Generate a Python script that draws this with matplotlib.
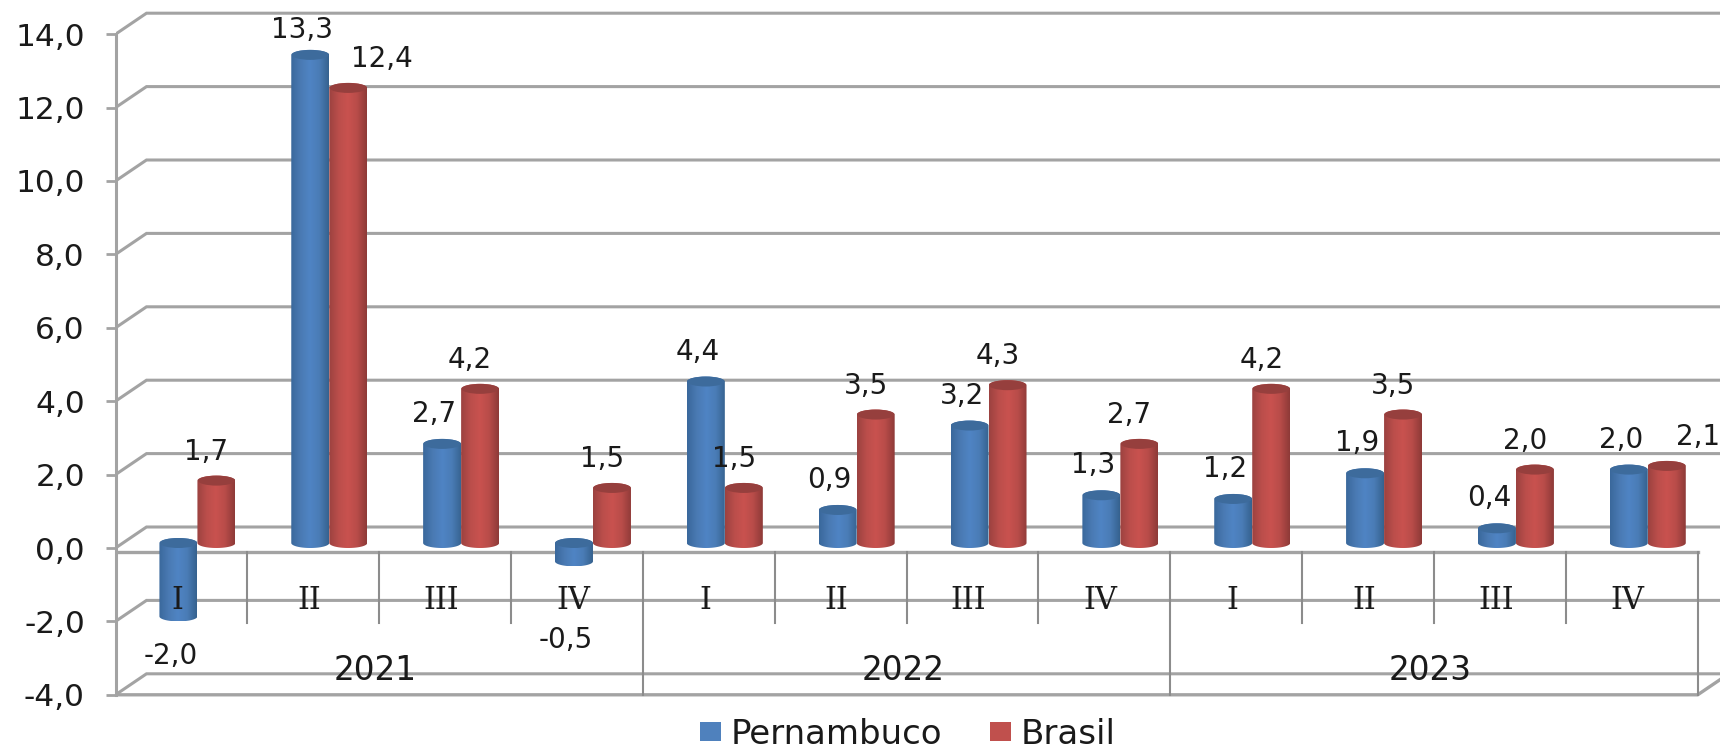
import numpy as np
import matplotlib
matplotlib.use('Agg')
import matplotlib.pyplot as plt
from matplotlib.colors import LinearSegmentedColormap
from matplotlib.patches import Ellipse, PathPatch
from matplotlib.path import Path

quarters = ['I', 'II', 'III', 'IV'] * 3
years = ['2021', '2022', '2023']
pernambuco = [-2.0, 13.3, 2.7, -0.5, 4.4, 0.9, 3.2, 1.3, 1.2, 1.9, 0.4, 2.0]
brasil = [1.7, 12.4, 4.2, 1.5, 1.5, 3.5, 4.3, 2.7, 4.2, 3.5, 2.0, 2.1]
yticks = [-4, -2, 0, 2, 4, 6, 8, 10, 12, 14]

W, H = 1720, 751
X0, XSTEP = 115.5, 131.85   # pixels
Y0, YSTEP = 548., 36.7
DX, DY = 31./XSTEP, 21./YSTEP   # depth of the 3d box
BARX, BARY = 16./XSTEP, 5./YSTEP   # bars stand half way in
BARW = 38./XSTEP
CAPH = 5./YSTEP
GRID = '#a3a3a3'
FONT = 'DejaVu Sans'
TXT = '#1a1a1a'

fig = plt.figure(figsize=(W/100., H/100.), dpi=100)
ax = fig.add_axes([X0/W, 0, 1-X0/W, 1])
ax.patch.set_visible(False)


def fmt(val):
    return '{0:.1f}'.format(val).replace('.', ',')


def cylinder(xc, val, cols, capcol, zord):
    """ a shaded cylinder from the floor level to `val` """
    cmap = LinearSegmentedColormap.from_list('cyl', cols)
    base = BARY
    low, upp = min(base, base+val), max(base, base+val)
    tt = np.linspace(0, np.pi, 40)
    xs = xc - BARW/2*np.cos(tt)
    bot = np.c_[xs, low - CAPH*np.sin(tt)]
    top = np.c_[xs[::-1], upp + CAPH*np.sin(tt[::-1])]
    verts = np.r_[bot, top, bot[:1]]
    body = PathPatch(Path(verts), fc='none', ec='none', zorder=zord)
    ax.add_patch(body)
    img = ax.imshow(np.linspace(0, 1, 64)[None, :], cmap=cmap, aspect='auto',
                    extent=(xc-BARW/2, xc+BARW/2, low-CAPH, upp+CAPH),
                    zorder=zord)
    img.set_clip_path(body)
    ax.add_patch(Ellipse((xc, upp), BARW*.97, 2*CAPH, fc=capcol, ec='none',
                         zorder=zord+.1))


# the walls of the box
for tck in yticks:
    ax.plot([0, DX, 20], [tck, tck+DY, tck+DY], color=GRID, lw=2.2,
            solid_joinstyle='miter', zorder=1)
ax.plot([0, 12], [-.1, -.1], color=GRID, lw=2.4, zorder=2)
ax.plot([0, 12, 12+DX], [-4, -4, -4+DY], color=GRID, lw=2.4, zorder=2)
ax.plot([12, 12], [-.1, -4], color='#8c8c8c', lw=1.5, zorder=2)

# the two level category axis
for kk in range(1, 12):
    low = -4 if kk % 4 == 0 else -2.05
    ax.plot([kk, kk], [-.1, low], color='#8c8c8c', lw=1.5, zorder=2)

# the bars
blue_cols = ['#3a689c', '#4a7ab3', '#4f84c4', '#4a7cb6', '#36628f']
red_cols = ['#9c4240', '#bb4e4b', '#c9524f', '#b84c49', '#8e3a38']
for kk in range(12):
    xc = kk + .5 + BARX
    cylinder(xc-BARW/2, pernambuco[kk], blue_cols, '#3d6b9c', 5+2*kk)
    cylinder(xc+BARW/2, brasil[kk], red_cols, '#963f3d', 6+2*kk)
ax.set_xlim(0, (W-X0)/XSTEP)
ax.set_ylim((Y0-H)/YSTEP, Y0/YSTEP)

# the data labels, some were moved by hand in the original
rightof = {1: 34, 11: 31}
blue_shift = {0: -40, 1: 25, 3: -79}
for kk in range(12):
    xc = kk + .5 + BARX
    pxc, bxc = xc-BARW/2, xc+BARW/2
    pval, bval = pernambuco[kk], brasil[kk]
    ypos = BARY + pval + blue_shift.get(kk, 30)/YSTEP
    ax.text(pxc-8./XSTEP, ypos, fmt(pval), ha='center', va='center',
            fontsize=20, family=FONT, color=TXT, zorder=60)
    ax.text(bxc+rightof.get(kk, -10)/XSTEP, BARY+bval+29./YSTEP, fmt(bval),
            ha='center', va='center', fontsize=20, family=FONT,
            color=TXT, zorder=60)

# category labels
for kk, lab in enumerate(quarters):
    ax.text(kk+.47, -1.42, lab, ha='center', va='center', fontsize=22,
            family='DejaVu Serif', color=TXT, zorder=70)
for kk, lab in enumerate(years):
    ax.text(4*kk+1.97, -3.33, lab, ha='center', va='center', fontsize=23.5,
            family=FONT, color=TXT, zorder=70)

# value axis
for name in ['top', 'right', 'bottom']:
    ax.spines[name].set_visible(False)
ax.spines['left'].set_bounds(-4, 14)
ax.spines['left'].set_color(GRID)
ax.spines['left'].set_linewidth(2.2)
ax.set_xticks([])
ax.set_yticks(yticks)
ax.set_yticklabels([fmt(tck) for tck in yticks], family=FONT, fontsize=22.5,
                   color=TXT)
ax.tick_params(axis='y', color=GRID, width=2, length=7, pad=15)

# legend
hndls = [plt.Rectangle((0, 0), 1, 1, fc='#4f81bd'),
         plt.Rectangle((0, 0), 1, 1, fc='#c0504d')]
fig.legend(hndls, ['Pernambuco', 'Brasil'], loc='center',
           bbox_to_anchor=(908./W, 1-734./H), ncol=2, frameon=False,
           prop=dict(family=FONT, size=24.5), handlelength=.6,
           handleheight=.45, handletextpad=.3, columnspacing=1.4,
           labelcolor=TXT, borderpad=0, borderaxespad=0)

fig.savefig('out.png', dpi=100)
